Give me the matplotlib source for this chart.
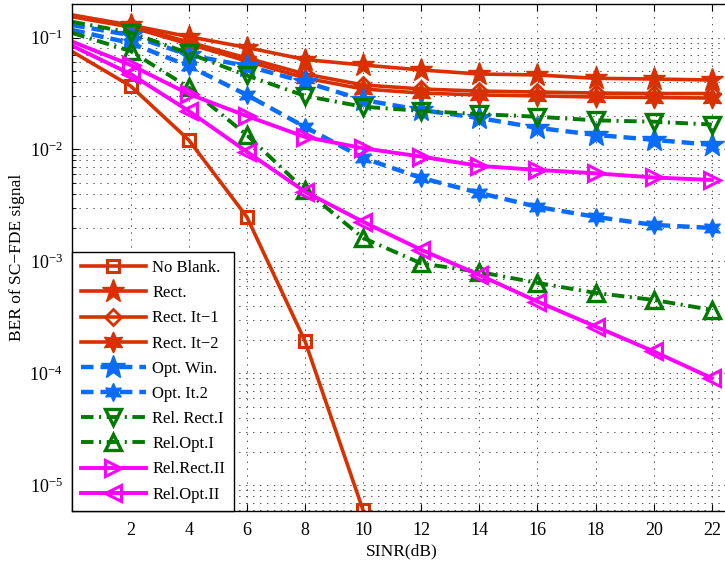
import matplotlib
matplotlib.use('Agg')
import matplotlib.pyplot as plt
from matplotlib.ticker import LogLocator, NullFormatter

plt.rcParams['font.family'] = ['Liberation Serif', 'DejaVu Serif']
plt.rcParams['mathtext.fontset'] = 'custom'
plt.rcParams['mathtext.rm'] = 'Liberation Serif'
plt.rcParams['mathtext.it'] = 'Liberation Serif:italic'
plt.rcParams['lines.scale_dashes'] = False

# SINR axis (dB)
sinr = [0, 2, 4, 6, 8, 10, 12, 14, 16, 18, 20, 22]
sinr_noblank = [0, 2, 4, 6, 8, 10]

# BER curves
ber_noblank = [0.0747, 0.0369, 0.01217, 2.5e-3, 1.95e-4, 6.0e-6]
ber_rect = [0.159, 0.129, 0.1017, 0.0814, 0.0636, 0.0568, 0.0513, 0.0472, 0.0463, 0.0432, 0.0426, 0.0417]
ber_rect_it1 = [0.155, 0.127, 0.0911, 0.0656, 0.0472, 0.0377, 0.0347, 0.0332, 0.0326, 0.0319, 0.0316, 0.0316]
ber_rect_it2 = [0.153, 0.124, 0.0875, 0.0616, 0.0435, 0.0347, 0.0319, 0.0307, 0.0301, 0.0294, 0.0291, 0.0288]
ber_optwin = [0.129, 0.105, 0.0698, 0.0557, 0.0401, 0.0277, 0.0225, 0.0191, 0.0156, 0.0135, 0.0122, 0.0110]
ber_optit2 = [0.1166, 0.0893, 0.0557, 0.0307, 0.0159, 8.4e-3, 5.57e-3, 4.09e-3, 3.07e-3, 2.5e-3, 2.12e-3, 1.99e-3]
ber_relrect1 = [0.138, 0.1108, 0.0723, 0.0458, 0.0301, 0.0241, 0.0221, 0.0207, 0.0196, 0.0182, 0.0177, 0.0167]
ber_relopt1 = [0.1097, 0.0757, 0.0358, 0.01346, 4.35e-3, 1.62e-3, 9.6e-4, 8.05e-4, 6.43e-4, 5.23e-4, 4.53e-4, 3.69e-4]
ber_relrect2 = [0.0917, 0.0568, 0.0313, 0.0199, 0.01294, 0.01026, 8.63e-3, 7.13e-3, 6.56e-3, 6.12e-3, 5.62e-3, 5.34e-3]
ber_relopt2 = [0.0840, 0.0472, 0.0221, 9.55e-3, 4.2e-3, 2.26e-3, 1.27e-3, 7.57e-4, 4.38e-4, 2.62e-4, 1.57e-4, 9.06e-5]

labels = ['No Blank.', 'Rect.', 'Rect. It\u22121', 'Rect. It\u22122', 'Opt. Win.', 'Opt. It.2',
          'Rel. Rect.I', 'Rel.Opt.I', 'Rel.Rect.II', 'Rel.Opt.II']

red = '#D93000'
blue = '#0A6CFF'
green = '#007A00'
magenta = '#FF00FF'
hexagram = (6, 1, 0)
dash = (0, (9, 5))
dashdot = (0, (9, 4, 1.5, 4))

fig = plt.figure(figsize=(7.25, 5.65), dpi=100)
ax = fig.add_axes([0.0999, 0.0956, 0.9084, 0.8968])

every = slice(1, None)
ax.plot(sinr_noblank, ber_noblank, color=red, lw=2.6, marker='s', ms=9, mfc='none', mew=2.2, markevery=every, label=labels[0])
ax.plot(sinr, ber_rect, color=red, lw=2.6, marker='*', ms=17, mfc=red, mew=1, markevery=every, label=labels[1])
ax.plot(sinr, ber_rect_it1, color=red, lw=2.6, marker='D', ms=8, mfc='none', mew=2, markevery=every, label=labels[2])
ax.plot(sinr, ber_rect_it2, color=red, lw=2.6, marker=hexagram, ms=15, mfc=red, mew=1, markevery=every, label=labels[3])
ax.plot(sinr, ber_optwin, color=blue, lw=3.2, ls=dash, marker='*', ms=18, mfc=blue, mew=1, markevery=every, label=labels[4])
ax.plot(sinr, ber_optit2, color=blue, lw=3.2, ls=dash, marker=hexagram, ms=13, mfc=blue, mew=1, markevery=every, label=labels[5])
ax.plot(sinr, ber_relrect1, color=green, lw=2.8, ls=dashdot, marker='v', ms=12, mfc='none', mew=2.4, markevery=every, label=labels[6])
ax.plot(sinr, ber_relopt1, color=green, lw=2.8, ls=dashdot, marker='^', ms=12, mfc='none', mew=2.4, markevery=every, label=labels[7])
ax.plot(sinr, ber_relrect2, color=magenta, lw=2.8, marker='>', ms=12, mfc='none', mew=2.2, markevery=every, label=labels[8])
ax.plot(sinr, ber_relopt2, color=magenta, lw=2.8, marker='<', ms=12, mfc='none', mew=2.2, markevery=every, label=labels[9])

ax.set_yscale('log')
ax.set_ylim(5.9e-6, 0.198)
ax.set_xlim(0, 22.66)
ax.set_xticks([2, 4, 6, 8, 10, 12, 14, 16, 18, 20, 22])
ax.yaxis.set_major_locator(LogLocator(base=10, numticks=10))
ax.yaxis.set_minor_locator(LogLocator(base=10, subs=range(2, 10), numticks=20))
ax.yaxis.set_minor_formatter(NullFormatter())

ax.grid(True, which='major', color='#333333', linestyle=(0, (1, 4)), linewidth=0.6)
ax.grid(True, which='minor', axis='y', color='#333333', linestyle=(0, (1, 4)), linewidth=0.6)
ax.tick_params(which='both', direction='in', top=True, right=True, labelsize=13)
ax.tick_params(axis='x', which='major', pad=8)
ax.tick_params(axis='y', which='major', pad=7)
ax.tick_params(which='major', length=5)
ax.tick_params(which='minor', length=3)
for s in ax.spines.values():
    s.set_linewidth(1.0)

ax.set_xlabel('SINR(dB)', fontsize=12.5, labelpad=3)
ax.set_ylabel('BER of SC\u2212FDE signal', fontsize=12.5, labelpad=3)

leg = ax.legend(loc='lower left', borderaxespad=0, fontsize=12, handlelength=3.9,
                fancybox=False, framealpha=1, edgecolor='black', labelspacing=0.55,
                handletextpad=0.4, borderpad=0.5)
leg.get_frame().set_linewidth(1.0)

fig.savefig('out.png', dpi=100)
